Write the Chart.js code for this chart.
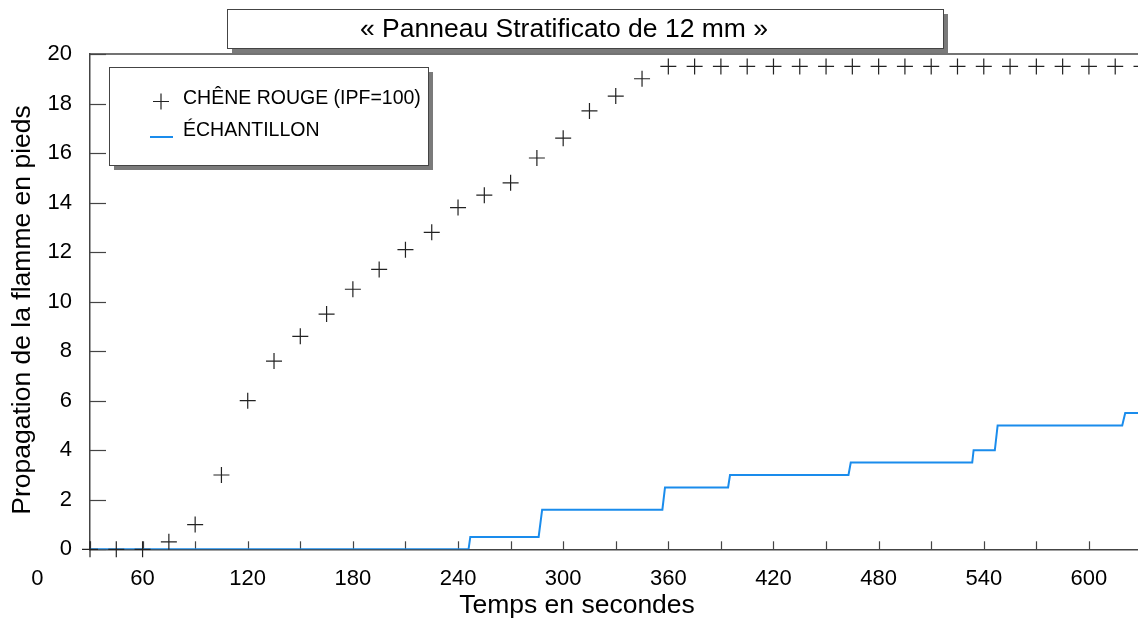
<!DOCTYPE html>
<html lang="fr">
<head>
<meta charset="utf-8">
<title>Panneau Stratificato de 12 mm</title>
<script src="https://cdn.jsdelivr.net/npm/chart.js@4.4.1/dist/chart.umd.min.js"></script>
<style>
  html, body { margin: 0; padding: 0; background: #fff; }
  #wrap { width: 1138px; height: 622px; position: relative; }
</style>
</head>
<body>
<div id="wrap"><canvas id="chart"></canvas></div>
<script>
// red oak reference, one reading every 15 s
const oakTimes = [30, 45, 60, 75, 90, 105, 120, 135, 150, 165, 180, 195, 210, 225,
  240, 255, 270, 285, 300, 315, 330, 345, 360, 375, 390, 405, 420, 435, 450, 465,
  480, 495, 510, 525, 540, 555, 570, 585, 600, 615, 630];
const oakSpread = [0, 0, 0, 0.3, 1.0, 3.0, 6.0, 7.6, 8.6, 9.5, 10.5, 11.3, 12.1, 12.8,
  13.8, 14.3, 14.8, 15.8, 16.6, 17.7, 18.3, 19.0, 19.5, 19.5, 19.5, 19.5, 19.5, 19.5, 19.5, 19.5,
  19.5, 19.5, 19.5, 19.5, 19.5, 19.5, 19.5, 19.5, 19.5, 19.5, 19.5];

// sample trace (stepped), corners of each step
const sampleTimes = [30, 246, 247, 286, 288, 356.6, 358.1, 394.1, 395.2, 462.8, 464.1,
  533.4, 534.2, 546.3, 547.9, 619, 620.7, 628];
const sampleSpread = [0, 0, 0.5, 0.5, 1.6, 1.6, 2.5, 2.5, 3.0, 3.0, 3.5,
  3.5, 4.0, 4.0, 5.0, 5.0, 5.5, 5.5];

const xTickValues = [0, 30, 60, 90, 120, 150, 180, 210, 240, 270, 300, 330, 360, 390,
  420, 450, 480, 510, 540, 570, 600];
const yTickValues = [0, 2, 4, 6, 8, 10, 12, 14, 16, 18, 20];

const chartTitle = '« Panneau Stratificato de 12 mm »';
const xTitle = 'Temps en secondes';
const yTitle = 'Propagation de la flamme en pieds';

const FONT = '"Liberation Sans", Arial, Helvetica, sans-serif';
const BLUE = '#1a8cec';
const INK = '#222';

Chart.defaults.font.family = FONT;
Chart.defaults.color = '#000';

function pairs(xs, ys) {
  return xs.map((x, i) => ({x: x, y: ys[i]}));
}

function boxWithShadow(ctx, x, y, w, h) {
  ctx.fillStyle = '#7a7a7a';
  ctx.fillRect(x + 5, y + 5, w, h);
  ctx.fillStyle = '#fff';
  ctx.fillRect(x, y, w, h);
  ctx.strokeStyle = '#444';
  ctx.lineWidth = 1;
  ctx.strokeRect(x + 0.5, y + 0.5, w, h);
}

const decor = {
  id: 'decor',
  beforeDraw(chart) {
    const ctx = chart.ctx;
    ctx.save();
    ctx.fillStyle = '#fff';
    ctx.fillRect(0, 0, chart.width, chart.height);
    ctx.restore();
  },
  beforeDatasetsDraw(chart) {
    const {ctx, chartArea, scales} = chart;
    ctx.save();
    ctx.strokeStyle = '#444';
    ctx.lineWidth = 1.5;
    // top frame line
    ctx.beginPath();
    ctx.moveTo(chartArea.left, chartArea.top);
    ctx.lineTo(chartArea.right, chartArea.top);
    ctx.stroke();
    // inward ticks
    ctx.lineWidth = 1.2;
    scales.x.ticks.forEach(t => {
      if (t.value < scales.x.min) return;
      const px = Math.round(scales.x.getPixelForValue(t.value)) + 0.5;
      ctx.beginPath();
      ctx.moveTo(px, chartArea.bottom);
      ctx.lineTo(px, chartArea.bottom - 8);
      ctx.stroke();
    });
    scales.y.ticks.forEach(t => {
      const py = Math.round(scales.y.getPixelForValue(t.value)) + 0.5;
      ctx.beginPath();
      ctx.moveTo(chartArea.left, py);
      ctx.lineTo(chartArea.left + 16, py);
      ctx.stroke();
    });
    ctx.restore();
  },
  afterDraw(chart) {
    const ctx = chart.ctx;
    const ds = chart.data.datasets;
    ctx.save();

    // title box
    boxWithShadow(ctx, 227, 9, 716, 39);
    ctx.fillStyle = '#000';
    ctx.font = '26.5px ' + FONT;
    ctx.textAlign = 'center';
    ctx.textBaseline = 'middle';
    ctx.fillText(chartTitle, 564, 30);

    // axis titles
    ctx.font = '26.5px ' + FONT;
    ctx.fillText(xTitle, 577, 606);
    ctx.save();
    ctx.translate(23, 310);
    ctx.rotate(-Math.PI / 2);
    ctx.fillText(yTitle, 0, 0);
    ctx.restore();

    // legend
    boxWithShadow(ctx, 109, 67, 319, 98);
    ctx.strokeStyle = ds[0].borderColor;
    ctx.lineWidth = ds[0].borderWidth;
    ctx.beginPath();
    ctx.moveTo(153, 101.5); ctx.lineTo(169, 101.5);
    ctx.moveTo(161, 93.5); ctx.lineTo(161, 109.5);
    ctx.stroke();
    ctx.strokeStyle = ds[1].borderColor;
    ctx.lineWidth = ds[1].borderWidth;
    ctx.beginPath();
    ctx.moveTo(150, 137); ctx.lineTo(173, 137);
    ctx.stroke();
    ctx.fillStyle = '#000';
    ctx.font = '19.5px ' + FONT;
    ctx.textAlign = 'left';
    ctx.fillText(ds[0].label, 183, 99);
    ctx.fillText(ds[1].label, 183, 131);

    ctx.restore();
  }
};

new Chart(document.getElementById('chart'), {
  type: 'scatter',
  data: {
    datasets: [
      {
        label: 'CHÊNE ROUGE (IPF=100)',
        data: pairs(oakTimes, oakSpread),
        pointStyle: 'cross',
        pointRadius: 8,
        pointHoverRadius: 8,
        borderColor: INK,
        backgroundColor: INK,
        borderWidth: 1.2,
        showLine: false,
        clip: false
      },
      {
        label: 'ÉCHANTILLON',
        data: pairs(sampleTimes, sampleSpread),
        showLine: true,
        pointRadius: 0,
        borderColor: BLUE,
        backgroundColor: BLUE,
        borderWidth: 2,
        tension: 0
      }
    ]
  },
  options: {
    responsive: true,
    maintainAspectRatio: false,
    animation: false,
    layout: {autoPadding: false, padding: {top: 54, right: 0, left: 0, bottom: 0}},
    plugins: {
      legend: {display: false},
      title: {display: false},
      tooltip: {enabled: false}
    },
    scales: {
      x: {
        type: 'linear',
        min: 30,
        max: 628,
        afterBuildTicks: s => { s.ticks = xTickValues.map(v => ({value: v})); },
        afterFit: s => { s.height = 72.7; s.paddingLeft = 0; s.paddingRight = 0; },
        grid: {display: false, drawTicks: false},
        border: {display: true, color: '#444', width: 1.5},
        ticks: {
          autoSkip: false,
          maxRotation: 0,
          padding: 16,
          font: {size: 22},
          color: '#000',
          callback: v => (v % 60 === 0 ? String(v) : '')
        }
      },
      y: {
        min: 0,
        max: 20,
        afterBuildTicks: s => { s.ticks = yTickValues.map(v => ({value: v})); },
        afterFit: s => { s.width = 90; },
        grid: {display: false, drawTicks: false},
        border: {display: true, color: '#444', width: 1.5},
        ticks: {
          padding: 18,
          font: {size: 22},
          color: '#000'
        }
      }
    }
  },
  plugins: [decor]
});
</script>
</body>
</html>
